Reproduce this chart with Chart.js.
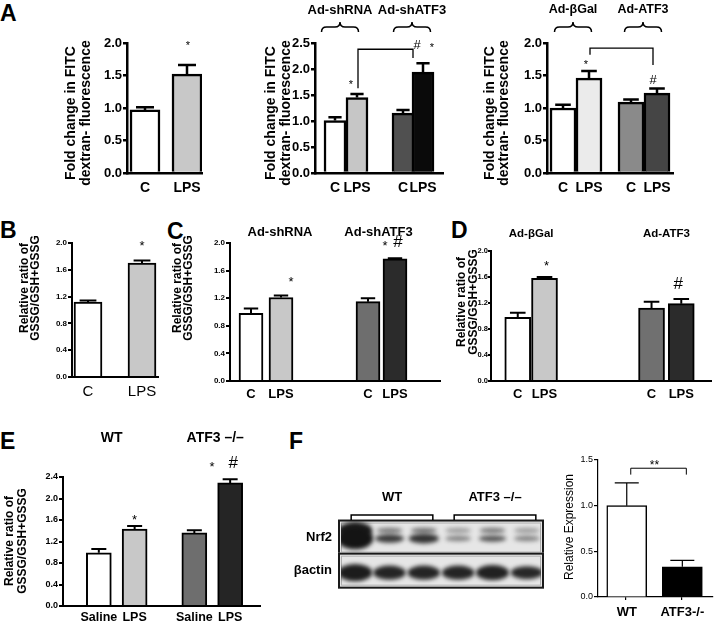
<!DOCTYPE html>
<html>
<head>
<meta charset="utf-8">
<script src="https://cdn.jsdelivr.net/npm/chart.js@4.4.1/dist/chart.umd.min.js"></script>
<style>
  html, body { margin: 0; padding: 0; background: #fff; overflow: hidden; }
  #fig { position: relative; width: 718px; height: 624px; font-family: 'Liberation Sans', Arial, sans-serif; }
  .tag { position: absolute; font-weight: bold; font-size: 23px; line-height: 1; }
  canvas { position: absolute; }
</style>
</head>
<body>
<div id="fig">
  <div class="tag" style="left:0;top:2px">A</div>
  <div class="tag" style="left:0;top:219px">B</div>
  <div class="tag" style="left:167px;top:220px">C</div>
  <div class="tag" style="left:451px;top:219px">D</div>
  <div class="tag" style="left:0;top:430px">E</div>
  <div class="tag" style="left:289px;top:430px">F</div>
</div>
<script>
// ---- values ----
const a1Labels = ['C', 'LPS'];
const a1Values = [0.97, 1.52];
const a1Errors = [0.04, 0.14];

const a2Labels = ['C', 'LPS', 'C', 'LPS'];
const a2Values = [1.01, 1.45, 1.15, 1.94];
const a2Errors = [0.06, 0.07, 0.06, 0.17];

const a3Labels = ['C', 'LPS', 'C', 'LPS'];
const a3Values = [1.0, 1.46, 1.09, 1.23];
const a3Errors = [0.05, 0.11, 0.04, 0.07];

const bLabels = ['C', 'LPS'];
const bValues = [1.12, 1.70];
const bErrors = [0.02, 0.04];

const cLabels = ['C', 'LPS', 'C', 'LPS'];
const cValues = [0.98, 1.21, 1.15, 1.77];
const cErrors = [0.07, 0.03, 0.05, 0.01];

const dLabels = ['C', 'LPS', 'C', 'LPS'];
const dValues = [0.98, 1.58, 1.12, 1.19];
const dErrors = [0.07, 0.02, 0.10, 0.07];

const eLabels = ['Saline', 'LPS', 'Saline', 'LPS'];
const eValues = [0.99, 1.43, 1.36, 2.29];
const eErrors = [0.07, 0.06, 0.05, 0.07];

const fLabels = ['WT', 'ATF3-/-'];
const fValues = [1.0, 0.33];
const fErrors = [0.25, 0.07];

// western blot band strengths, lanes 1-6
const blotLanes = ['1', '2', '3', '4', '5', '6'];
const blotRows = ['Nrf2', 'βactin'];
const nrf2Upper = [0.95, 0.35, 0.4, 0.12, 0.35, 0.12];
const nrf2Lower = [1.0, 0.75, 0.8, 0.3, 0.6, 0.3];
const actinBand = [0.95, 0.9, 0.9, 0.9, 0.92, 0.88];

const FONT = "'Liberation Sans', Arial, sans-serif";
const fig = document.getElementById('fig');

function font(size, bold) {
  return { family: FONT, size: size, weight: bold ? 'bold' : 'normal', lineHeight: 1.2 };
}

function addCanvas(left, top, w, h) {
  const cv = document.createElement('canvas');
  cv.width = w; cv.height = h;
  cv.style.left = left + 'px';
  cv.style.top = top + 'px';
  fig.appendChild(cv);
  return cv;
}

// place the bars on a fine category grid: empty categories act as spacing
function spread(items, slots, grid, empty) {
  const out = Array(grid + 1).fill(empty);
  slots.forEach((s, k) => { out[s] = items[k]; });
  return out;
}

function drawBrace(ctx, cx, y, w) {
  const h = w / 2;
  ctx.beginPath();
  ctx.moveTo(cx - h, y + 5);
  ctx.quadraticCurveTo(cx - h, y, cx - h + 5, y);
  ctx.lineTo(cx - 5, y);
  ctx.quadraticCurveTo(cx, y, cx, y - 5);
  ctx.quadraticCurveTo(cx, y, cx + 5, y);
  ctx.lineTo(cx + h - 5, y);
  ctx.quadraticCurveTo(cx + h, y, cx + h, y + 5);
  ctx.stroke();
}

// error bars, significance marks, group labels, axis titles
function extras(p, left, top) {
  return {
    id: 'extras',
    afterDatasetsDraw(chart) {
      const ctx = chart.ctx;
      const ys = chart.scales.y;
      const meta = chart.getDatasetMeta(0).data;
      const bar = k => meta[p.slots[k]];
      ctx.save();
      ctx.strokeStyle = '#000';
      ctx.fillStyle = '#000';

      ctx.lineWidth = p.aw;
      p.errors.forEach((e, k) => {
        const b = bar(k);
        const yTop = ys.getPixelForValue(p.values[k] + e);
        const half = b.width * p.cap / 2;
        ctx.beginPath();
        ctx.moveTo(b.x, b.y);
        ctx.lineTo(b.x, yTop);
        ctx.moveTo(b.x - half, yTop);
        ctx.lineTo(b.x + half, yTop);
        ctx.stroke();
      });

      (p.links || []).forEach(l => {
        const x1 = bar(l.from).x + (l.fromDx || 0);
        const x2 = bar(l.to).x + (l.toDx || 0);
        const yt = ys.getPixelForValue(l.top);
        ctx.lineWidth = l.lw || 1.3;
        ctx.beginPath();
        ctx.moveTo(x1, ys.getPixelForValue(l.fromBottom));
        ctx.lineTo(x1, yt);
        ctx.lineTo(x2, yt);
        ctx.lineTo(x2, ys.getPixelForValue(l.toBottom));
        ctx.stroke();
      });

      ctx.textAlign = 'center';
      ctx.textBaseline = 'middle';
      (p.marks || []).forEach(m => {
        const x = (m.between ? (bar(m.between[0]).x + bar(m.between[1]).x) / 2 : bar(m.i).x) + (m.dx || 0);
        let y = ys.getPixelForValue(m.v);
        if (m.t[0] === '*') y += m.size * 0.3;
        ctx.font = m.size + 'px ' + FONT;
        ctx.fillText(m.t, x, y);
      });

      (p.groups || []).forEach(g => {
        const x = (bar(g.from).x + bar(g.to).x) / 2 + (g.dx || 0);
        ctx.font = 'bold ' + p.groupSize + 'px ' + FONT;
        ctx.fillText(g.t, x, p.groupY - top);
        if (p.braceY) {
          ctx.lineWidth = 1.5;
          drawBrace(ctx, x, p.braceY - top, 37);
        }
      });

      ctx.font = (p.titleBold ? 'bold ' : '') + p.titleSize + 'px ' + FONT;
      p.title.forEach((line, k) => {
        ctx.save();
        ctx.translate(p.titleX[k] - left, p.titleY - top);
        ctx.rotate(-Math.PI / 2);
        ctx.fillText(line, 0, 0);
        ctx.restore();
      });
      ctx.restore();
    }
  };
}

function barPanel(p) {
  const left = p.axisX - p.yw;
  const top = p.yTop - p.padTop;
  const w = p.yw + (p.axisRight - p.axisX) + p.padRight;
  const h = p.padTop + (p.yZero - p.yTop) + p.xh;
  const cv = addCanvas(left, top, w, h);
  const labels = spread(p.labels, p.slots, p.grid, '');
  new Chart(cv, {
    type: 'bar',
    data: {
      labels: labels,
      datasets: [{
        data: spread(p.values, p.slots, p.grid, null),
        backgroundColor: spread(p.fills, p.slots, p.grid, null),
        borderColor: '#000',
        borderWidth: p.bw,
        borderSkipped: 'start',
        barThickness: p.barW
      }]
    },
    options: {
      responsive: false,
      animation: false,
      devicePixelRatio: 1,
      layout: { padding: { top: p.padTop, right: p.padRight, left: 0, bottom: 0 } },
      plugins: { legend: { display: false }, tooltip: { enabled: false } },
      scales: {
        x: {
          offset: false,
          grid: p.xTicks
            ? { drawOnChartArea: false, lineWidth: p.aw, tickLength: 3,
                tickColor: c => (c.tick && c.tick.label ? '#000' : 'rgba(0,0,0,0)') }
            : { display: false, drawTicks: false },
          border: { color: '#000', width: p.aw },
          ticks: { autoSkip: false, maxRotation: 0, minRotation: 0, padding: p.xPad, color: '#000', font: p.xFont },
          afterFit: s => { s.height = p.xh; }
        },
        y: {
          min: 0,
          max: p.max,
          grid: { drawOnChartArea: false, color: '#000', lineWidth: p.aw, tickLength: p.tl || 4 },
          border: { color: '#000', width: p.aw },
          ticks: { stepSize: p.step, autoSkip: false, padding: p.yPad == null ? 1 : p.yPad, color: '#000', font: p.yFont, callback: v => v.toFixed(1) },
          afterFit: s => { s.width = p.yw; }
        }
      }
    },
    plugins: [extras(p, left, top)]
  });
}

const foldTitle = ['Fold change in FITC', 'dextran- fluorescence'];
const ratioTitle = ['Relative ratio of', 'GSSG/GSH+GSSG'];

// ---- A ----
barPanel({
  labels: a1Labels, values: a1Values, errors: a1Errors, fills: ['#ffffff', '#c8c8c8'],
  slots: [6, 20], grid: 25,
  axisX: 127, axisRight: 202, yTop: 43, yZero: 173, yw: 67, padTop: 43, padRight: 10, xh: 30,
  max: 2.0, step: 0.5, barW: 30, bw: 2.5, aw: 2.5, cap: 0.6,
  xFont: font(14, true), xPad: 7, yFont: font(13, true),
  marks: [{ i: 1, t: '*', v: 2.0, dx: 1, size: 11 }],
  title: foldTitle, titleX: [71, 86], titleY: 113, titleSize: 14, titleBold: true
});
barPanel({
  labels: a2Labels, values: a2Values, errors: a2Errors,
  fills: ['#ffffff', '#c6c6c6', '#505050', '#0a0a0a'],
  slots: [10, 21, 44, 54], grid: 64,
  axisX: 315, axisRight: 443, yTop: 43, yZero: 173, yw: 56, padTop: 43, padRight: 8, xh: 30,
  max: 2.5, step: 0.5, barW: 22, bw: 2.5, aw: 2.5, cap: 0.6,
  xFont: font(14, true), xPad: 7, yFont: font(13, true),
  links: [{ from: 1, to: 3, top: 2.38, fromBottom: 1.63, toBottom: 2.21, fromDx: 1, toDx: -10 }],
  marks: [
    { i: 1, t: '*', v: 1.75, dx: -6, size: 11 },
    { i: 3, t: '#', v: 2.46, dx: -6, size: 13 },
    { i: 3, t: '*', v: 2.46, dx: 9, size: 11 }
  ],
  groups: [{ from: 0, to: 1, t: 'Ad-shRNA', dx: -6 }, { from: 2, to: 3, t: 'Ad-shATF3', dx: -1 }],
  groupY: 10, braceY: 27, groupSize: 13,
  title: foldTitle, titleX: [271, 286], titleY: 113, titleSize: 14, titleBold: true
});
barPanel({
  labels: a3Labels, values: a3Values, errors: a3Errors,
  fills: ['#ffffff', '#ebebeb', '#8a8a8a', '#454545'],
  slots: [8, 21, 42, 55], grid: 63,
  axisX: 547, axisRight: 673, yTop: 43, yZero: 173, yw: 67, padTop: 43, padRight: 8, xh: 30,
  max: 2.0, step: 0.5, barW: 26, bw: 2.5, aw: 2.5, cap: 0.6,
  xFont: font(14, true), xPad: 7, yFont: font(13, true),
  links: [{ from: 1, to: 3, top: 1.92, fromBottom: 1.82, toBottom: 1.66, fromDx: 1, toDx: -4 }],
  marks: [
    { i: 1, t: '*', v: 1.71, dx: -3, size: 11 },
    { i: 3, t: '#', v: 1.43, dx: -4, size: 13 }
  ],
  groups: [{ from: 0, to: 1, t: 'Ad-βGal', dx: -3 }, { from: 2, to: 3, t: 'Ad-ATF3', dx: -1 }],
  groupY: 10, braceY: 27, groupSize: 12.5,
  title: foldTitle, titleX: [490, 504], titleY: 113, titleSize: 14, titleBold: true
});

// ---- B ----
barPanel({
  labels: bLabels, values: bValues, errors: bErrors, fills: ['#ffffff', '#c8c8c8'],
  slots: [8, 35], grid: 43,
  axisX: 72, axisRight: 158, yTop: 243, yZero: 377, yw: 57, padTop: 14, padRight: 20, xh: 30,
  max: 2.0, step: 0.4, barW: 28, bw: 2, aw: 2, cap: 0.6,
  xFont: font(15, false), xPad: 6, yFont: font(8, true),
  marks: [{ i: 1, t: '*', v: 2.0, dx: 0, size: 13 }],
  title: ratioTitle, titleX: [25, 36], titleY: 288, titleSize: 12, titleBold: true
});

// ---- C ----
barPanel({
  labels: cLabels, values: cValues, errors: cErrors,
  fills: ['#ffffff', '#c8c8c8', '#6e6e6e', '#2b2b2b'],
  slots: [7, 17, 46, 55], grid: 70,
  axisX: 230, axisRight: 440, yTop: 243, yZero: 381, yw: 62, padTop: 22, padRight: 8, xh: 30,
  max: 2.0, step: 0.4, barW: 24, bw: 2, aw: 2, cap: 0.6,
  xFont: font(13, true), xPad: 6, yFont: font(8, true),
  marks: [
    { i: 1, t: '*', v: 1.49, dx: 10, size: 13 },
    { i: 3, t: '*', v: 2.01, dx: -10, size: 13 },
    { i: 3, t: '#', v: 2.01, dx: 3, size: 17 }
  ],
  groups: [{ from: 0, to: 1, t: 'Ad-shRNA', dx: 14 }, { from: 2, to: 3, t: 'Ad-shATF3', dx: -3 }],
  groupY: 232, groupSize: 13,
  title: ratioTitle, titleX: [178, 189], titleY: 288, titleSize: 12, titleBold: true
});

// ---- D ----
barPanel({
  labels: dLabels, values: dValues, errors: dErrors,
  fills: ['#ffffff', '#c8c8c8', '#707070', '#2b2b2b'],
  slots: [9, 18, 54, 64], grid: 74,
  axisX: 491, axisRight: 713, yTop: 251, yZero: 381, yw: 42, padTop: 26, padRight: 4, xh: 30,
  max: 2.0, step: 0.4, barW: 26, bw: 2, aw: 2, cap: 0.6, tl: 3, yPad: 0,
  xFont: font(13, true), xPad: 6, yFont: font(7.5, true),
  marks: [
    { i: 1, t: '*', v: 1.82, dx: 2, size: 13 },
    { i: 3, t: '#', v: 1.48, dx: -3, size: 17 }
  ],
  groups: [{ from: 0, to: 1, t: 'Ad-βGal', dx: 0 }, { from: 2, to: 3, t: 'Ad-ATF3', dx: 0 }],
  groupY: 234, groupSize: 11.5,
  title: ratioTitle, titleX: [462, 474], titleY: 302, titleSize: 12, titleBold: true
});

// ---- E ----
barPanel({
  labels: eLabels, values: eValues, errors: eErrors,
  fills: ['#ffffff', '#c8c8c8', '#6e6e6e', '#252525'],
  slots: [12, 24, 44, 56], grid: 66,
  axisX: 63, axisRight: 260, yTop: 477, yZero: 606, yw: 63, padTop: 48, padRight: 6, xh: 24,
  max: 2.4, step: 0.4, barW: 25, bw: 2, aw: 2, cap: 0.6,
  xFont: font(12.5, true), xPad: 4, yFont: font(9, true),
  marks: [
    { i: 1, t: '*', v: 1.66, dx: 0, size: 13 },
    { i: 3, t: '*', v: 2.66, dx: -18, size: 13 },
    { i: 3, t: '#', v: 2.66, dx: 3, size: 17 }
  ],
  groups: [{ from: 0, to: 1, t: 'WT', dx: -5 }, { from: 2, to: 3, t: 'ATF3 –/–', dx: 3 }],
  groupY: 438, groupSize: 14,
  title: ratioTitle, titleX: [10, 23], titleY: 541, titleSize: 12, titleBold: true
});

// ---- F, quantification ----
barPanel({
  labels: fLabels, values: fValues, errors: fErrors, fills: ['#ffffff', '#000000'],
  slots: [15, 44], grid: 60,
  axisX: 598, axisRight: 718, yTop: 460, yZero: 597, yw: 38, padTop: 14, padRight: 0, xh: 27,
  max: 1.5, step: 0.5, barW: 40, bw: 1.5, aw: 1.2, cap: 0.6, xTicks: true,
  xFont: font(13, true), xPad: 5, yFont: font(9, false),
  links: [{ from: 0, to: 1, top: 1.41, fromBottom: 1.34, toBottom: 1.34, fromDx: 4, toDx: 4, lw: 1 }],
  marks: [{ between: [0, 1], t: '**', v: 1.48, size: 12 }],
  title: ['Relative Expression'], titleX: [570], titleY: 527, titleSize: 12, titleBold: false
});

// ---- F, western blot ----
(function blotPanel() {
  const axisX = 338, axisRight = 544, yTop = 521, yBottom = 601, yw = 48, padTop = 36;
  const left = axisX - yw, top = yTop - padTop;
  const cv = addCanvas(left, top, yw + axisRight - axisX + 2, padTop + yBottom - yTop);
  const rowData = (row, dy, strength) => ({
    data: blotLanes.map(l => ({ x: l, y: row })),
    strength: strength, dy: dy, pointRadius: 0
  });
  new Chart(cv, {
    type: 'scatter',
    data: {
      datasets: [
        rowData('Nrf2', -7, nrf2Upper),
        rowData('Nrf2', 1, nrf2Lower),
        rowData('βactin', 2, actinBand)
      ]
    },
    options: {
      responsive: false, animation: false, devicePixelRatio: 1,
      layout: { padding: { top: padTop, right: 2, left: 0, bottom: 0 } },
      plugins: { legend: { display: false }, tooltip: { enabled: false } },
      scales: {
        x: { type: 'category', labels: blotLanes, offset: true, display: false },
        y: {
          type: 'category', labels: blotRows, offset: true,
          grid: { display: false, drawTicks: false }, border: { display: false },
          ticks: { padding: 6, color: '#000', font: font(13, true) },
          afterFit: s => { s.width = yw; }
        }
      }
    },
    plugins: [{
      id: 'blot',
      beforeDatasetsDraw(chart) {
        const { ctx, chartArea: a, scales } = chart;
        ctx.save();
        blotRows.forEach((r, i) => {
          const yc = scales.y.getPixelForValue(i);
          ctx.fillStyle = '#e6e6e6';
          ctx.fillRect(a.left, yc - 18, a.right - a.left, 36);
          ctx.strokeStyle = '#1a1a1a';
          ctx.lineWidth = 2;
          ctx.strokeRect(a.left + 1, yc - 17, a.right - a.left - 2, 34);
          ctx.strokeStyle = '#b0b0b0';
          ctx.lineWidth = 1;
          ctx.strokeRect(a.left + 3.5, yc - 14.5, a.right - a.left - 7, 29);
        });
        ctx.restore();
      },
      afterDatasetsDraw(chart) {
        const { ctx, chartArea: a, scales } = chart;
        ctx.save();
        ctx.beginPath();
        ctx.rect(a.left + 3, a.top, a.right - a.left - 6, a.bottom - a.top);
        ctx.clip();
        ctx.filter = 'blur(2px)';
        ctx.fillStyle = '#141414';
        chart.data.datasets.forEach((ds, d) => {
          chart.getDatasetMeta(d).data.forEach((pt, i) => {
            const s = ds.strength[i];
            ctx.globalAlpha = Math.min(1, 0.25 + 0.75 * s);
            ctx.beginPath();
            ctx.ellipse(pt.x, pt.y + ds.dy, 13 + 5 * Math.pow(s, 4), 2.8 + 8 * Math.pow(s, 6), 0, 0, Math.PI * 2);
            ctx.fill();
          });
        });
        ctx.restore();

        // lane group brackets
        const groups = [{ from: 0, to: 2, t: 'WT' }, { from: 3, to: 5, t: 'ATF3 –/–' }];
        ctx.save();
        ctx.strokeStyle = '#000';
        ctx.fillStyle = '#000';
        ctx.lineWidth = 1.5;
        ctx.font = 'bold 13px ' + FONT;
        ctx.textAlign = 'center';
        ctx.textBaseline = 'middle';
        groups.forEach(g => {
          const x1 = scales.x.getPixelForValue(g.from) - 4;
          const x2 = scales.x.getPixelForValue(g.to) + 9;
          const yb = 515 - top;
          ctx.beginPath();
          ctx.moveTo(x1, yb + 5);
          ctx.lineTo(x1, yb);
          ctx.lineTo(x2, yb);
          ctx.lineTo(x2, yb + 5);
          ctx.stroke();
          ctx.fillText(g.t, (x1 + x2) / 2, 497 - top);
        });
        ctx.restore();
      }
    }]
  });
})();
</script>
</body>
</html>
